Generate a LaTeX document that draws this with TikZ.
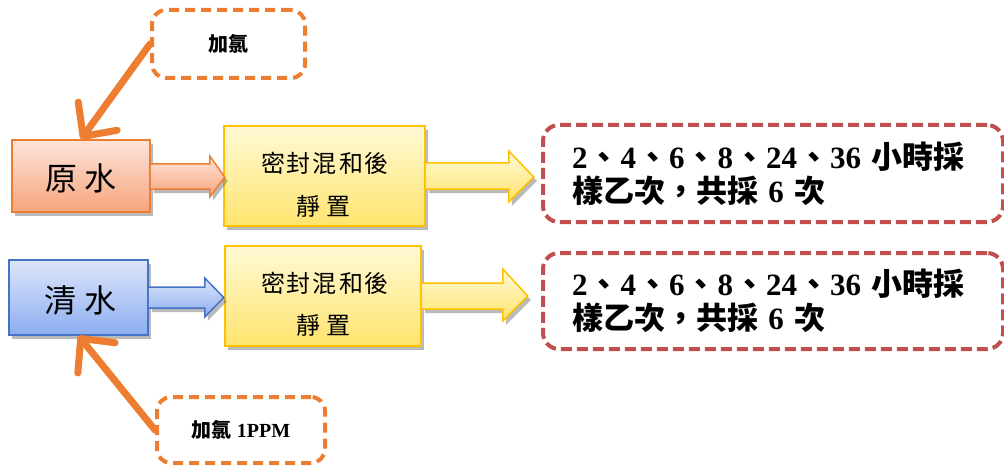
\documentclass[tikz,border=0pt]{standalone}
\usepackage{fontspec}
\setmainfont{Liberation Serif}
\newfontfamily\cjk{Noto Sans CJK TC}
\usetikzlibrary{arrows.meta,shadows,calc}
\definecolor{orng}{HTML}{ED7D31}
\definecolor{orngtop}{HTML}{FDE4DA}
\definecolor{orngbot}{HTML}{F7A47C}
\definecolor{blu}{HTML}{4472C4}
\definecolor{blutop}{HTML}{DCE6FA}
\definecolor{blubot}{HTML}{8DADF1}
\definecolor{ylw}{HTML}{FFC000}
\definecolor{ylwtop}{HTML}{FFFAD6}
\definecolor{ylwbot}{HTML}{FFE46E}
\definecolor{redd}{HTML}{C0504D}
\newcommand\cj[1]{{\cjk\bfseries #1}}
\newcommand\dun{\cj{\hspace{1pt}、\hspace{1pt}}}
\begin{document}
\begin{tikzpicture}[x=1pt,y=-1pt,
  shad/.style={drop shadow={shadow xshift=3pt,shadow yshift=-4pt,opacity=0.45,fill=black!60}},
  orangebox/.style={draw=orng,line width=1.5pt,top color=orngtop,bottom color=orngbot,shad,inner sep=0pt},
  bluebox/.style={draw=blu,line width=1.5pt,top color=blutop,bottom color=blubot,shad,inner sep=0pt},
  yellowbox/.style={draw=ylw,line width=1.5pt,top color=ylwtop,bottom color=ylwbot,shad,inner sep=0pt},
  chlorbox/.style={draw=orng,line width=4pt,dash pattern=on 10pt off 6pt,rounded corners=14pt,fill=white,inner sep=0pt,
    font=\fontsize{20}{22}\selectfont\bfseries},
  resbox/.style={draw=redd,line width=4pt,dash pattern=on 11pt off 5pt,rounded corners=16pt,fill=white,inner sep=0pt,
    align=left,font=\fontsize{31}{34}\selectfont\bfseries},
  bigtext/.style={font=\cjk\fontsize{32}{36}\selectfont},
  midtext/.style={font=\cjk\fontsize{24}{26}\selectfont},
  feed/.style={draw=orng,line width=7pt,line cap=round,-{Straight Barb[length=25pt,width=48pt,round]}},
]
\useasboundingbox (0,0) rectangle (1004,468);

% boxes
\node[orangebox,minimum width=138pt,minimum height=72pt] (yuan) at (81,176) {};
\node[bigtext] (yuant) at (81,178) {原\hspace{8pt}水};
\node[bluebox,minimum width=139pt,minimum height=75pt] (qing) at (78.5,297.5) {};
\node[bigtext] (qingt) at (80,300) {清\hspace{8pt}水};

\node[yellowbox,minimum width=201pt,minimum height=100pt] (mix1) at (324.5,176) {};
\node[midtext] (m1a) at (325,163) {密\hspace{2pt}封\hspace{2pt}混\hspace{2pt}和\hspace{2pt}後};
\node[midtext] (m1b) at (323,206) {靜\hspace{6pt}置};
\node[yellowbox,minimum width=196pt,minimum height=100pt] (mix2) at (323,296) {};
\node[midtext] (m2a) at (325,283) {密\hspace{2pt}封\hspace{2pt}混\hspace{2pt}和\hspace{2pt}後};
\node[midtext] (m2b) at (323,325) {靜\hspace{6pt}置};

\node[resbox,minimum width=460pt,minimum height=97pt,text width=402pt] (r1) at (773,173.5)
  {2\dun 4\dun 6\dun 8\dun 24\dun 36 \cj{小時採}\\\cj{樣乙次，共採} 6 \cj{次}};
\node[resbox,minimum width=460pt,minimum height=96pt,text width=402pt] (r2) at (773,301)
  {2\dun 4\dun 6\dun 8\dun 24\dun 36 \cj{小時採}\\\cj{樣乙次，共採} 6 \cj{次}};

\node[chlorbox,minimum width=153pt,minimum height=68pt] (cl1) at (228.5,44) {\cj{加氯}};
\node[chlorbox,minimum width=168pt,minimum height=66pt] (cl2) at (241,430) {\cj{加氯} 1PPM};

% block arrows
\draw[draw=orng,line width=1.5pt,top color=orngtop,bottom color=orngbot,shad]
  ($(yuan.east)+(0,-12)$) -- ($(yuan.east)+(59,-12)$) -- ($(yuan.east)+(59,-20)$) -- ($(yuan.east)+(74,1)$)
  -- ($(yuan.east)+(59,21)$) -- ($(yuan.east)+(59,13)$) -- ($(yuan.east)+(0,13)$);
\draw[draw=blu,line width=1.5pt,top color=blutop,bottom color=blubot,shad]
  ($(qing.east)+(0,-10.5)$) -- ($(qing.east)+(56,-10.5)$) -- ($(qing.east)+(56,-19.5)$) -- ($(qing.east)+(75,0)$)
  -- ($(qing.east)+(56,19.5)$) -- ($(qing.east)+(56,10.5)$) -- ($(qing.east)+(0,10.5)$);
\draw[draw=ylw,line width=1.5pt,top color=ylwtop,bottom color=ylwbot,shad]
  ($(mix1.east)+(0,-13)$) -- ($(mix1.east)+(83,-13)$) -- ($(mix1.east)+(83,-25)$) -- ($(mix1.east)+(108,1)$)
  -- ($(mix1.east)+(83,26)$) -- ($(mix1.east)+(83,13)$) -- ($(mix1.east)+(0,13)$);
\draw[draw=ylw,line width=1.5pt,top color=ylwtop,bottom color=ylwbot,shad]
  ($(mix2.east)+(0,-13)$) -- ($(mix2.east)+(81,-13)$) -- ($(mix2.east)+(81,-27)$) -- ($(mix2.east)+(106,0)$)
  -- ($(mix2.east)+(81,25)$) -- ($(mix2.east)+(81,13)$) -- ($(mix2.east)+(0,13)$);

% chlorine feed arrows
\draw[feed] (cl1.west) -- (yuan.north);
\draw[feed] (cl2.west) -- (qing.south);
\end{tikzpicture}
\end{document}
